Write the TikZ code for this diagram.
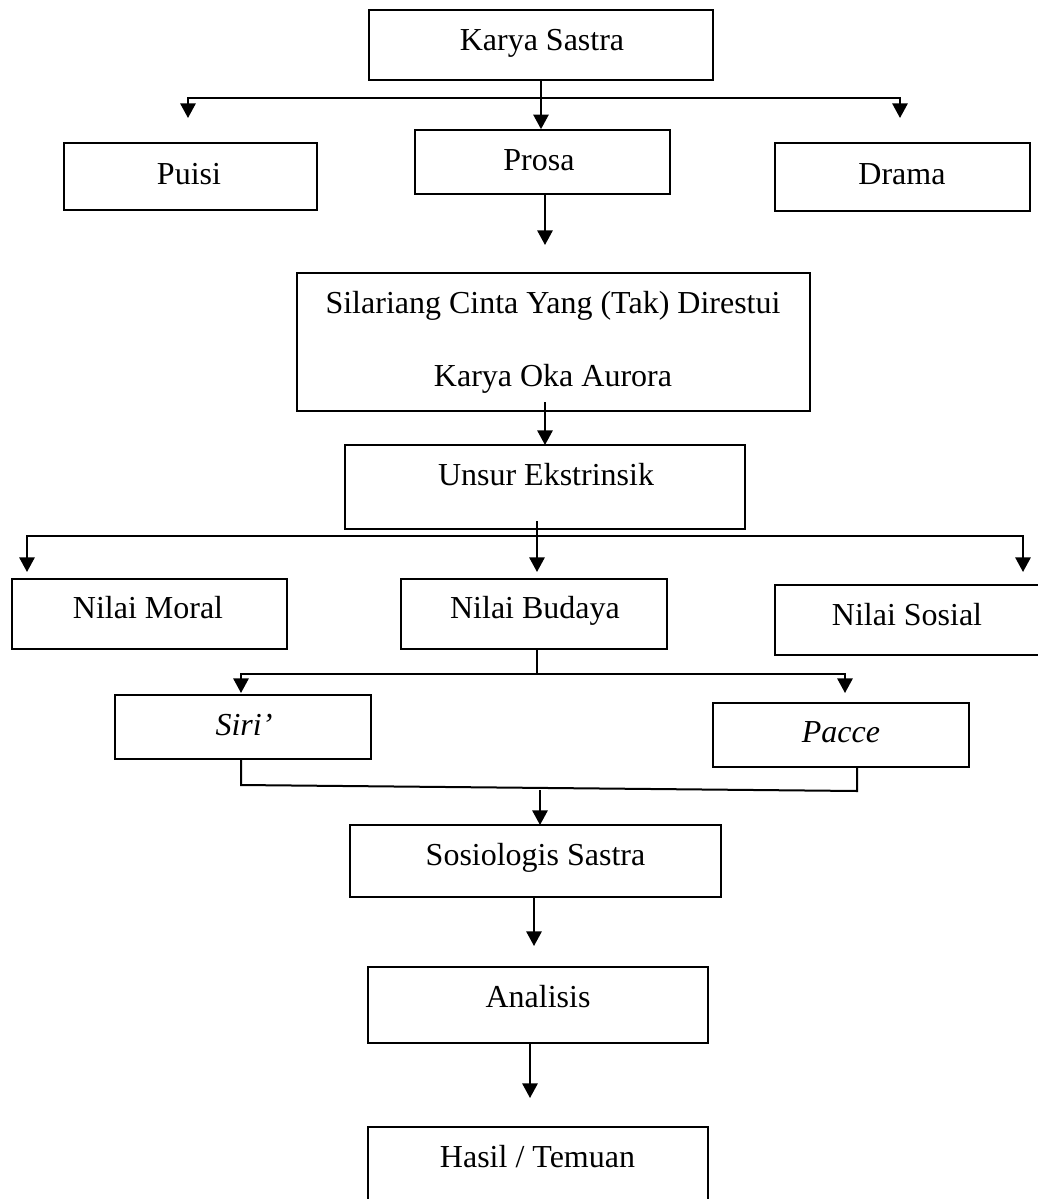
\documentclass[tikz,border=0pt]{standalone}
\usepackage{fontspec}
\setmainfont{Liberation Serif}
\usetikzlibrary{arrows.meta}
\begin{document}
\begin{tikzpicture}[x=0.75pt,y=-0.75pt,
  bx/.style={draw, line width=1.25pt, rectangle, inner sep=0pt},
  tx/.style={anchor=base, inner sep=0pt, font=\fontsize{24}{28.8}\selectfont},
  ln/.style={line width=1.5pt},
  arr/.style={line width=1.5pt, -{Triangle[width=11.5pt,length=11pt]}}]
\useasboundingbox (0,0) rectangle (1038,1199);

% boxes
\node[bx, minimum width=258pt, minimum height=52.5pt] (ks) at (541,45) {};
\node[bx, minimum width=189.75pt, minimum height=50.25pt] (puisi) at (190.5,176.5) {};
\node[bx, minimum width=191.25pt, minimum height=48pt] (prosa) at (542.5,162) {};
\node[bx, minimum width=191.25pt, minimum height=51pt] (drama) at (902.5,177) {};
\node[bx, minimum width=384.75pt, minimum height=103.5pt] (sil) at (553.5,342) {};
\node[bx, minimum width=300pt, minimum height=63pt] (unsur) at (545,487) {};
\node[bx, minimum width=206.25pt, minimum height=52.5pt] (moral) at (149.5,614) {};
\node[bx, minimum width=199.5pt, minimum height=52.5pt] (budaya) at (534,614) {};
\node[bx, minimum width=202.5pt, minimum height=52.5pt] (sosial) at (910,620) {};
\node[bx, minimum width=192pt, minimum height=48pt] (siri) at (243,727) {};
\node[bx, minimum width=192pt, minimum height=48pt] (pacce) at (841,735) {};
\node[bx, minimum width=278.25pt, minimum height=54pt] (sosio) at (535.5,861) {};
\node[bx, minimum width=255pt, minimum height=57pt] (anal) at (538,1005) {};
\node[bx, minimum width=255pt, minimum height=82.5pt] (hasil) at (538,1182) {};

% texts
\node[tx] (ks-t) at (542,50) {Karya Sastra};
\node[tx] (puisi-t) at (189,184) {Puisi};
\node[tx] (prosa-t) at (539,170) {Prosa};
\node[tx] (drama-t) at (902,184) {Drama};
\node[tx] (sil-t1) at (553,313) {Silariang Cinta Yang (Tak) Direstui};
\node[tx] (sil-t2) at (553,386) {Karya Oka Aurora};
\node[tx] (unsur-t) at (546,485) {Unsur Ekstrinsik};
\node[tx] (moral-t) at (148,618) {Nilai Moral};
\node[tx] (budaya-t) at (535,618) {Nilai Budaya};
\node[tx] (sosial-t) at (907,625) {Nilai Sosial};
\node[tx] (siri-t) at (244,735) {\itshape Siri’};
\node[tx] (pacce-t) at (841,742) {\itshape Pacce};
\node[tx] (sosio-t) at (535.5,865) {Sosiologis Sastra};
\node[tx] (anal-t) at (538,1007) {Analisis};
\node[tx] (hasil-t) at (537.5,1167) {Hasil / Temuan};

% coordinates
\coordinate (j1) at (541,98);
\coordinate (a1) at (188,118);
\coordinate (a2) at (900,118);
\coordinate (p0) at (545,194);
\coordinate (p1) at (545,245);
\coordinate (s0) at (545,402);
\coordinate (s1) at (545,445);
\coordinate (u0) at (537,521);
\coordinate (j2) at (537,536);
\coordinate (b1) at (27,572);
\coordinate (b2) at (537,572);
\coordinate (b3) at (1023,572);
\coordinate (c0) at (537,649);
\coordinate (j3) at (537,674);
\coordinate (c1) at (241,693);
\coordinate (c2) at (845,693);
\coordinate (d0) at (241,759);
\coordinate (d1) at (241,785);
\coordinate (d2) at (857,791);
\coordinate (d3) at (857,767);
\coordinate (e0) at (540,790);
\coordinate (e1) at (540,825);
\coordinate (f0) at (534,897);
\coordinate (f1) at (534,946);
\coordinate (g0) at (530,1043);
\coordinate (g1) at (530,1098);

% connectors
\draw[arr] (ks.south) -- (ks.south |- prosa.north);
\draw[arr] (j1) -| (a1);
\draw[arr] (j1) -| (a2);
\draw[arr] (p0) -- (p1);
\draw[arr] (s0) -- (s1);
\draw[ln] (u0) -- (j2);
\draw[arr] (j2) -| (b1);
\draw[arr] (j2) -- (b2);
\draw[arr] (j2) -| (b3);
\draw[ln] (c0) -- (j3);
\draw[arr] (j3) -| (c1);
\draw[arr] (j3) -| (c2);
\draw[ln] (d0) -- (d1) -- (d2) -- (d3);
\draw[arr] (e0) -- (e1);
\draw[arr] (f0) -- (f1);
\draw[arr] (g0) -- (g1);
\end{tikzpicture}
\end{document}
